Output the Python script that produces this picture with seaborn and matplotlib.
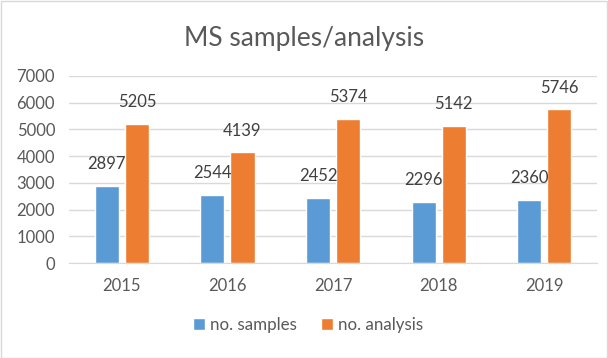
import pandas as pd
import seaborn as sns
import matplotlib.pyplot as plt
from matplotlib.patches import Rectangle

years = ['2015', '2016', '2017', '2018', '2019']
samples = [2897, 2544, 2452, 2296, 2360]
analysis = [5205, 4139, 5374, 5142, 5746]

df = pd.DataFrame({
    'year': years * 2,
    'value': samples + analysis,
    'series': ['no. samples'] * 5 + ['no. analysis'] * 5,
})

sns.set_style('white')
plt.rcParams['font.family'] = ['Lato', 'DejaVu Sans']
grey = '#595959'

fig = plt.figure(figsize=(6.08, 3.58), dpi=100)
ax = fig.add_axes([0.1135, 0.265, 0.8685, 0.523])

sns.barplot(data=df, x='year', y='value', hue='series',
            palette=['#5B9BD5', '#ED7D31'], width=0.57, gap=0.2,
            saturation=1, ax=ax)

for c in ax.containers:
    ax.bar_label(c, padding=10, fontsize=12, color='#404040')

ax.set_ylim(0, 7000)
ax.set_yticks(range(0, 7001, 1000))
ax.set_xlim(-0.5, 4.5)
ax.yaxis.grid(True, color='#D9D9D9', linewidth=1)
ax.set_axisbelow(True)
for s in ['top', 'right', 'left']:
    ax.spines[s].set_visible(False)
ax.spines['bottom'].set_color('#D9D9D9')
ax.tick_params(axis='both', length=0, labelsize=12, labelcolor=grey)
ax.tick_params(axis='x', pad=11)
ax.tick_params(axis='y', pad=10)
ax.set_xlabel('')
ax.set_ylabel('')

ax.legend(loc='center', bbox_to_anchor=(0.453, -0.33), ncol=2, frameon=False,
          fontsize=12.2, labelcolor=grey, handlelength=0.7, handleheight=0.7,
          handletextpad=0.3, columnspacing=1.4)

fig.text(0.5, 0.893, 'MS samples/analysis', ha='center', va='center',
         fontsize=19, color=grey)

fig.patches.append(Rectangle((0.001, 0.001), 0.997, 0.997, transform=fig.transFigure,
                             fill=False, edgecolor='#D9D9D9', linewidth=1))

fig.savefig('out.png', dpi=100)
